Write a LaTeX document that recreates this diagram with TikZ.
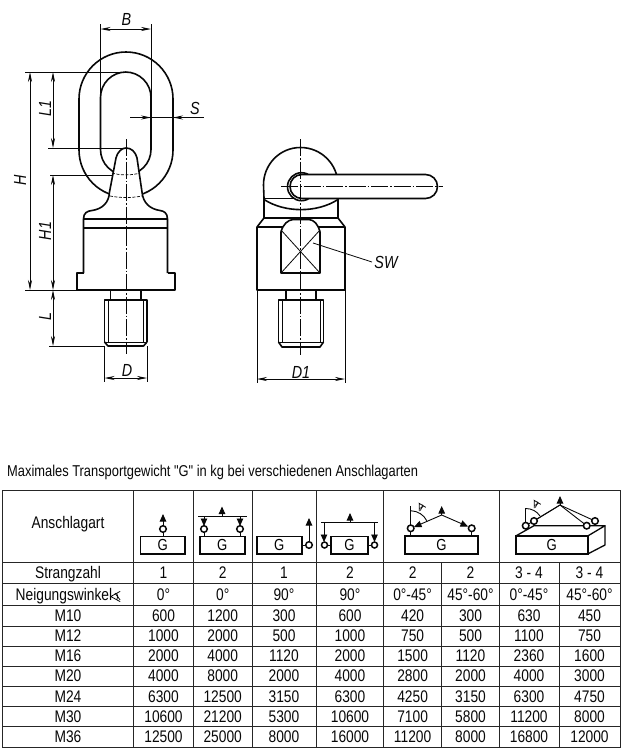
\documentclass[tikz,border=0pt]{standalone}
\usepackage{fontspec}
\setmainfont[FakeStretch=0.82,Ligatures=TeXOff]{Liberation Sans}
\usetikzlibrary{arrows.meta}
\definecolor{ink}{gray}{0.03}
\definecolor{rule}{gray}{0.15}
\tikzset{
  x=1pt,y=-1pt,
  thick line/.style={line width=1.6pt,draw=ink,line join=round},
  thin line/.style={line width=0.8pt,draw=ink},
  center line/.style={line width=0.7pt,draw=ink,dash pattern=on 17pt off 2pt on 1.5pt off 2pt},
  hidden line/.style={line width=0.7pt,draw=ink,dash pattern=on 3pt off 1.5pt},
  dim line/.style={line width=0.8pt,draw=ink,{Stealth[length=10pt,width=4pt]}-{Stealth[length=10pt,width=4pt]}},
  dim end/.style={line width=0.8pt,draw=ink,-{Stealth[length=10pt,width=4pt]}},
  dim label/.style={font=\fontsize{17.5}{17.5}\selectfont\itshape,text=ink,inner sep=0pt},
  cell text/.style={font=\fontsize{16.8}{16.8}\selectfont,text=ink,inner sep=0pt,anchor=base},
  title text/.style={font=\fontsize{15.7}{15.7}\selectfont,text=ink,inner sep=0pt,anchor=base west},
  grid rule/.style={line width=1pt,draw=rule},
  icon box/.style={draw=ink,line width=1.6pt,fill=white,inner sep=0pt,font=\fontsize{16}{16}\selectfont},
  icon line/.style={line width=0.9pt,draw=ink},
  icon ring/.style={line width=1.5pt,draw=ink,fill=white},
  lift tip/.style={line width=0.9pt,draw=ink,-{Triangle[length=7.5pt,width=6.5pt]}},
}
\newcommand{\tablerow}[3]{%
  \foreach \v [count=\i from 0] in {#3}{%
    \pgfmathsetmacro{\cx}{{68,163.5,222.7,284,350,412.6,470.5,529,589.5}[\i]}%
    \node[cell text] (cell-#1-\i) at (\cx,#2) {\v};
  }%
}
\newcommand{\anglesym}[4]{%
  \begin{scope}[shift={(#1,#2)},rotate=#3,scale=#4]
    \draw[line width=0.8pt,draw=ink] (6,-6) -- (-5,0) -- (6,6);
    \draw[line width=0.8pt,draw=ink] (2,-4) .. controls (3.6,-1.5) and (3.6,1.5) .. (2,4);
    \draw[line width=0.8pt,draw=ink] (0,-4) -- (6,4);
  \end{scope}%
}
\newcommand{\ringat}[3]{\draw[icon ring] (#1,#2) circle[radius=#3pt];}
\begin{document}
\begin{tikzpicture}
\useasboundingbox (0,0) rectangle (625,750);
\fill[white] (0,0) rectangle (625,750);

% ---- left view ----
\draw[thick line] (79,52) [rounded corners=47pt] rectangle (173,197);
\draw[thick line] (100.5,72) [rounded corners=25.5pt] rectangle (151,175);
\path[fill=white] (83.5,219) .. controls (83.5,213) and (87,211) .. (92,210.5) .. controls (102,209) and (109,203) .. (109.5,192) -- (116,158) .. controls (118,151) and (122,148) .. (126,148) .. controls (131,148) and (135,151) .. (137,158) -- (142,192) .. controls (143,203) and (150,209) .. (160,210.5) .. controls (164,211) and (167.5,213) .. (167.5,219) -- cycle;
\draw[thick line] (83.5,273) -- (83.5,219) .. controls (83.5,213) and (87,211) .. (92,210.5) .. controls (102,209) and (109,203) .. (109.5,192) -- (116,158) .. controls (118,151) and (122,148) .. (126,148) .. controls (131,148) and (135,151) .. (137,158) -- (142,192) .. controls (143,203) and (150,209) .. (160,210.5) .. controls (164,211) and (167.5,213) .. (167.5,219) -- (167.5,273);
\draw[hidden line] (112,173) .. controls (120,175.5) and (132,175.5) .. (140,173);
\draw[hidden line] (110,196) .. controls (120,198) and (132,198) .. (142,196);
\draw[thick line] (83.5,219) -- (167.5,219);
\draw[thick line] (83.5,228) -- (167.5,228);
\draw[thick line] (83.5,273) -- (77,273) -- (77,290) -- (175,290) -- (175,273) -- (167.5,273);
\draw[thick line] (110.5,290) -- (110.5,300);
\draw[thick line] (141,290) -- (141,300);
\draw[thick line] (104.5,342) -- (104.5,300) -- (147,300) -- (147,342);
\draw[thick line] (104.5,342) -- (108,346) -- (143.5,346) -- (147,342);
\draw[thin line] (104.5,342) -- (147,342);
\draw[thin line] (108.5,300) -- (108.5,343);
\draw[thin line] (143.5,300) -- (143.5,343);
\draw[center line] (126,139) -- (126,354);

% dimensions left view
\coordinate (bL) at (100.5,29); \coordinate (bR) at (151,29);
\draw[thin line] (100.5,24) -- (100.5,150);
\draw[thin line] (151,24) -- (151,150);
\draw[dim line] (bL) -- (bR);
\node[dim label] (labB) at (126.5,19.5) {B};
\coordinate (sA) at (130,117.5); \coordinate (sB) at (204,117.5);
\draw[thin line] (sA) -- (sB);
\draw[dim end] (140,117.5) -- (151,117.5);
\draw[dim end] (185,117.5) -- (173,117.5);
\node[dim label] (labS) at (195,108.5) {S};
\draw[thin line] (25,72) -- (126,72);
\draw[thin line] (48,148) -- (126,148);
\draw[thin line] (50,175) -- (112,175);
\draw[thin line] (25,290) -- (77,290);
\draw[thin line] (49,346) -- (105,346);
\draw[dim line] (30,72) -- (30,290);
\draw[dim line] (53,72) -- (53,148);
\draw[dim line] (53,175) -- (53,290);
\draw[dim line] (53,290) -- (53,346);
\node[dim label,rotate=90] (labH) at (20,180) {H};
\node[dim label,rotate=90] (labLa) at (45,108.5) {L1};
\node[dim label,rotate=90] (labHa) at (45,231) {H1};
\node[dim label,rotate=90] (labL) at (45,317) {L};
\draw[thin line] (104.5,346) -- (104.5,382);
\draw[thin line] (147,346) -- (147,382);
\draw[dim line] (104.5,378) -- (147,378);
\node[dim label] (labD) at (127,370) {D};

% ---- right view ----
\draw[thick line] (264,218) -- (264,198) -- (263.5,185) .. controls (263.5,164.3) and (279.8,147.5) .. (300.5,147.5) .. controls (321.2,147.5) and (338,164.3) .. (338,185) -- (338,218);
\draw[thick line] (264,198.5) -- (338,198.5);
\draw[thick line] (264,199.5) .. controls (285,213) and (317,213) .. (338,199.5);
\draw[thick line] (264,218) -- (338,218);
\draw[thick line] (264,218) -- (257,227) -- (257,290) -- (345,290) -- (345,227) -- (338,218);
\draw[thick line] (257,227) -- (345,227);
\path[fill=white] (281,273) -- (281,232) .. controls (283,224) and (288,220) .. (293,219.5) -- (309,219.5) .. controls (314,220) and (318,224) .. (320,232) -- (320,273) -- cycle;
\draw[thick line] (281,273) -- (281,232) .. controls (283,224) and (288,220) .. (293,219.5) -- (309,219.5) .. controls (314,220) and (318,224) .. (320,232) -- (320,273) -- cycle;
\draw[thin line] (281,230) -- (320,273);
\draw[thin line] (320,230) -- (281,273);
\draw[thick line,fill=white] (301.5,186.7) circle[radius=14pt];
\draw[thick line,fill=white] (290,174.5) [rounded corners=12pt] rectangle (437.5,198.5);
\draw[thick line] (286,290) -- (286,300);
\draw[thick line] (316,290) -- (316,300);
\draw[thick line] (278.5,342) -- (278.5,300) -- (323.5,300) -- (323.5,342);
\draw[thick line] (278.5,342) -- (282,347) -- (320,347) -- (323.5,342);
\draw[thin line] (278.5,342) -- (323.5,342);
\draw[thin line] (282,300) -- (282,343);
\draw[thin line] (320,300) -- (320,343);
\draw[center line] (300.5,139) -- (300.5,355);
\draw[center line] (281,186.5) -- (443,186.5);
\coordinate (swA) at (313,243); \coordinate (swB) at (372,262);
\draw[thin line] (swA) -- (swB);
\node[dim label] (labSW) at (386,262) {SW};
\draw[thin line] (257,290) -- (257,383);
\draw[thin line] (345,290) -- (345,383);
\draw[dim line] (257,379) -- (345,379);
\node[dim label] (labDa) at (301,372) {D1};

% ---- title ----
\node[title text] (title) at (7,476) {Maximales Transportgewicht "G" in kg bei verschiedenen Anschlagarten};

% ---- table ----
\draw[grid rule] (2,490) rectangle (620,747);
\foreach \yy in {562,583.5,605.5,626,646,666,686,706.5,726.5}{\draw[grid rule] (2,\yy) -- (620,\yy);}
\foreach \xx in {133.5,193.5,252,316,383.5,499.3}{\draw[grid rule] (\xx,490) -- (\xx,747);}
\foreach \xx in {441.7,559}{\draw[grid rule] (\xx,562) -- (\xx,747);}
\node[cell text] (head) at (68,528) {Anschlagart};
\tablerow{a}{578}{Strangzahl,1,2,1,2,2,2,3 - 4,3 - 4}
\node[cell text,anchor=base west] (neig) at (15.5,600) {Neigungswinkel};
\tablerow{b}{600}{{},0°,0°,90°,90°,0°-45°,45°-60°,0°-45°,45°-60°}
\tablerow{c}{621.5}{M10,600,1200,300,600,420,300,630,450}
\tablerow{d}{641.5}{M12,1000,2000,500,1000,750,500,1100,750}
\tablerow{e}{661.5}{M16,2000,4000,1120,2000,1500,1120,2360,1600}
\tablerow{f}{681.5}{M20,4000,8000,2000,4000,2800,2000,4000,3000}
\tablerow{g}{702}{M24,6300,12500,3150,6300,4250,3150,6300,4750}
\tablerow{h}{722}{M30,10600,21200,5300,10600,7100,5800,11200,8000}
\tablerow{i}{742.5}{M36,12500,25000,8000,16000,11200,8000,16800,12000}
\anglesym{115}{596.5}{0}{0.85}

% icon 1
\draw[icon line] (163,537) -- (163,532);
\draw[lift tip] (163,526) -- (163,514);
\ringat{163}{529}{3.3}
\node[icon box,minimum width=44.5pt,minimum height=17.5pt] (g1) at (162.8,545.3) {G};
% icon 2
\draw[icon line] (198,516) -- (247,516);
\draw[lift tip] (222,516) -- (222,506.5);
\draw[lift tip] (204,516) -- (204,526);
\draw[lift tip] (240,516) -- (240,526);
\draw[icon line] (204,532) -- (204,537);
\draw[icon line] (240,532) -- (240,537);
\ringat{204}{529}{3.3}
\ringat{240}{529}{3.3}
\node[icon box,minimum width=45pt,minimum height=17.5pt] (g2) at (222.2,545.3) {G};
% icon 3
\draw[icon line] (301,545) -- (306,545);
\draw[lift tip] (309,542) -- (309,518);
\ringat{309}{545}{3.3}
\node[icon box,minimum width=45pt,minimum height=17.5pt] (g3) at (279.2,545.3) {G};
% icon 4
\draw[icon line] (321,522.7) -- (378,522.7);
\draw[lift tip] (350,522.7) -- (350,513);
\draw[lift tip] (324,522.7) -- (324,542);
\draw[lift tip] (374.5,522.7) -- (374.5,542);
\ringat{324.5}{545}{3}
\ringat{374.5}{545}{3}
\draw[icon line] (327.5,545) -- (331,545);
\draw[icon line] (368,545) -- (371.5,545);
\node[icon box,minimum width=37.5pt,minimum height=17.5pt] (g4) at (349.5,545.3) {G};
% icon 5
\node[icon box,minimum width=73pt,minimum height=18pt] (g5) at (441.4,545) {G};
\coordinate (ap5) at (441.7,515);
\draw[lift tip] (ap5) -- (441.7,506);
\draw[lift tip] (ap5) -- (414,527);
\draw[lift tip] (ap5) -- (468,526.5);
\draw[icon line] (410.7,525) -- (410.7,506);
\draw[icon line] (410.7,510.7) .. controls (418,511) and (424,515) .. (426.7,520.7);
\draw[icon line] (410.7,531) -- (410.7,536);
\draw[icon line] (471.7,531) -- (471.7,536);
\ringat{410.7}{528.3}{3.3}
\ringat{471.7}{528.3}{3.3}
\anglesym{420.7}{506}{-60}{0.62}
% icon 6
\draw[line width=1.3pt,draw=ink,line join=round] (515.7,536) -- (534,525.7) -- (605,525.7) -- (587.7,536);
\draw[line width=1.3pt,draw=ink,line join=round] (605,525.7) -- (605,545) -- (587.7,554);
\node[icon box,minimum width=72pt,minimum height=18pt] (g6) at (551.7,545) {G};
\coordinate (ap6) at (560,505);
\draw[lift tip] (ap6) -- (560,496);
\draw[icon line] (ap6) -- (525.7,525.7);
\draw[icon line] (ap6) -- (534,521);
\draw[icon line] (ap6) -- (586.7,525.7);
\draw[icon line] (ap6) -- (595,521);
\draw[icon line] (525.7,523) -- (525.7,508);
\draw[icon line] (525.7,508.5) .. controls (532,508.5) and (537,511.5) .. (540,516);
\ringat{534}{521}{3.3}
\ringat{595}{521}{3.3}
\ringat{525.7}{525.7}{3.3}
\ringat{586.7}{525.7}{3.3}
\anglesym{535.7}{503}{-60}{0.62}
\end{tikzpicture}
\end{document}
